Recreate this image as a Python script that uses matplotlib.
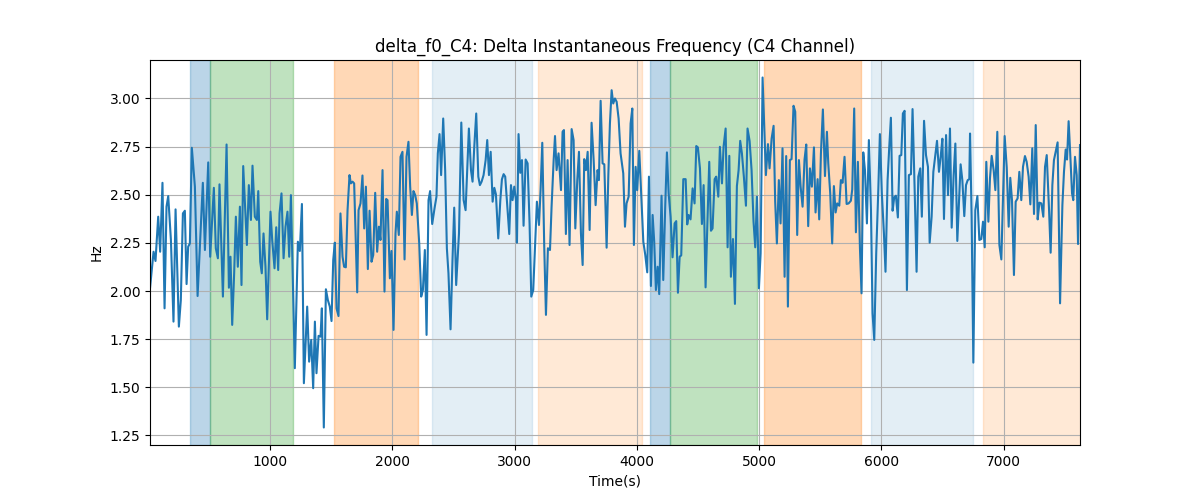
import matplotlib
matplotlib.use("Agg")
import matplotlib.pyplot as plt

# time stamps (s) and delta f0 values (Hz)
time_s = [
    20, 49, 65, 87, 103, 122, 139, 155, 169, 191, 212, 229, 256, 272, 289, 305, 319, 332, 346, 362,
    387, 409, 430, 452, 469, 496, 512, 542, 558, 575, 588, 616, 646, 665, 678, 692, 708, 722, 738, 755,
    768, 782, 812, 828, 845, 858, 877, 894, 905, 921, 934, 948, 964, 978, 1005, 1019, 1038, 1052, 1068, 1079,
    1095, 1112, 1128, 1144, 1158, 1172, 1204, 1229, 1245, 1262,
    1278, 1305, 1321, 1338, 1354, 1368, 1381, 1398, 1414, 1425, 1441, 1458, 1474, 1490, 1504, 1518, 1531, 1545, 1561, 1577,
    1594, 1607, 1621, 1635, 1651, 1662, 1676, 1689, 1714, 1725, 1741, 1757, 1771, 1785, 1801, 1815, 1831, 1845, 1861, 1877,
    1891, 1904, 1921, 1937, 1951, 1962, 1981, 1994, 2011, 2027, 2038, 2054, 2068, 2084, 2101, 2117, 2133, 2147, 2161, 2174,
    2188, 2201, 2221, 2237, 2251, 2267, 2281, 2297, 2310, 2327, 2346, 2362, 2373, 2387, 2400, 2417, 2433, 2447, 2460, 2477,
    2493, 2507, 2523,
    2546, 2565, 2584, 2600, 2627, 2644, 2657, 2671, 2687, 2704, 2717, 2731, 2747, 2764, 2777, 2791, 2805, 2821, 2835, 2848,
    2867, 2884, 2897, 2911, 2924, 2941, 2957, 2971, 2984, 2998, 3012, 3020, 3033, 3047, 3061, 3074, 3091, 3107, 3123, 3137,
    3153, 3167, 3183, 3200, 3213, 3227, 3243, 3257, 3273, 3290, 3303, 3320, 3331, 3344, 3360, 3380, 3393, 3404, 3420, 3434,
    3450, 3467, 3483, 3497, 3513, 3527, 3543, 3557, 3570, 3584, 3598, 3614, 3630, 3647, 3663, 3679, 3690, 3704, 3720, 3734,
    3753, 3767, 3780, 3794,
    3807, 3821, 3835, 3851, 3867, 3889, 3903, 3916, 3933, 3949, 3963, 3976, 3990, 4003, 4020, 4033, 4053, 4069, 4085, 4099,
    4115, 4129, 4142, 4156, 4170, 4183, 4202, 4216, 4232, 4246, 4260, 4276, 4292, 4309, 4322, 4336, 4350, 4363, 4380, 4399,
    4412, 4423, 4439, 4456, 4472, 4486, 4499, 4516, 4532, 4546, 4562, 4576, 4592, 4606, 4619, 4636, 4649, 4666, 4679, 4696,
    4709, 4726, 4742, 4756, 4769, 4786, 4802, 4818, 4832, 4845, 4859, 4875, 4892, 4905, 4922, 4938, 4954, 4968, 4982, 4998,
    5012, 5028, 5042, 5055, 5072,
    5085, 5102, 5118, 5131, 5145, 5161, 5175, 5191, 5208, 5221, 5235, 5251, 5265, 5281, 5295, 5311, 5325, 5339, 5355, 5371,
    5385, 5401, 5415, 5431, 5448, 5461, 5478, 5491, 5505, 5521, 5538, 5554, 5565, 5581, 5597, 5611, 5625, 5638, 5655, 5668,
    5682, 5698, 5715, 5731, 5750, 5761, 5777, 5791, 5807, 5824, 5837, 5851, 5865, 5881, 5897, 5914, 5927, 5941, 5957, 5974,
    5987, 6003, 6020, 6033, 6050, 6063, 6077, 6091, 6104, 6118, 6134, 6148, 6162, 6175, 6189, 6208, 6224, 6241, 6254, 6271,
    6287, 6301, 6317, 6330,
    6348, 6364, 6380, 6394, 6410, 6424, 6440, 6454, 6470, 6484, 6498, 6511, 6528, 6544, 6560, 6574, 6590, 6604, 6620, 6634,
    6647, 6661, 6677, 6691, 6705, 6718, 6724, 6737, 6751, 6767, 6784, 6800, 6816, 6830, 6844, 6857, 6874, 6887, 6901, 6917,
    6931, 6947, 6964, 6980, 7007, 7024, 7040, 7053, 7067, 7083, 7097, 7113, 7127, 7143, 7157, 7173, 7187, 7203, 7217, 7233,
    7247, 7261, 7277, 7291, 7307, 7323, 7337, 7351, 7370, 7383, 7397, 7410, 7427, 7440, 7460, 7479, 7492, 7506, 7517, 7530,
    7541, 7558, 7568, 7582, 7596, 7607, 7623,
]
delta_f0 = [
    2.014, 2.204, 2.156, 2.386, 2.204, 2.562, 1.910, 2.438, 2.493, 2.265, 1.841, 2.424, 1.815, 1.953, 2.403, 2.417, 2.036, 2.230, 2.247, 2.744,
    2.542, 1.974, 2.265, 2.562, 2.213, 2.668, 2.178, 2.536, 2.222, 2.170, 2.554, 1.971, 2.761, 2.017, 2.178, 1.824, 2.092, 2.386, 2.126, 2.438,
    2.031, 2.649, 2.239, 2.550, 2.369, 2.651, 2.386, 2.369, 2.519, 2.152, 2.092, 2.299, 2.126, 1.853, 2.412, 2.265, 2.118, 2.331, 2.109, 2.403,
    2.507, 2.170, 2.334, 2.412, 2.178, 2.498, 1.599, 2.256, 2.208, 2.452,
    1.521, 1.919, 1.633, 1.746, 1.495, 1.841, 1.573, 1.767, 1.763, 1.910, 1.291, 2.009, 1.953, 1.919, 1.844, 2.161, 2.251, 1.910, 1.870, 2.403,
    2.178, 2.126, 2.123, 2.420, 2.602, 2.559, 2.568, 2.559, 1.993, 2.420, 2.455, 2.600, 2.325, 2.542, 2.114, 2.417, 2.152, 2.187, 2.510, 2.204,
    2.334, 2.265, 2.628, 1.997, 2.478, 2.472, 2.066, 2.208, 1.798, 2.299, 2.412, 2.291, 2.697, 2.723, 2.164, 2.697, 2.775, 2.542, 2.395, 2.519,
    2.498, 2.455, 2.247, 1.971, 2.005, 2.213, 1.772, 2.472, 2.519, 2.348, 2.429, 2.490, 2.715, 2.815, 2.602, 2.896, 2.628, 2.222, 2.092, 1.801,
    2.161, 2.433, 2.031,
    2.299, 2.875, 2.472, 2.420, 2.844, 2.628, 2.568, 2.749, 2.922, 2.594, 2.550, 2.568, 2.602, 2.680, 2.784, 2.602, 2.723, 2.464, 2.536, 2.502,
    2.273, 2.472, 2.580, 2.607, 2.594, 2.438, 2.296, 2.550, 2.472, 2.542, 2.472, 2.251, 2.815, 2.614, 2.680, 2.339, 2.683, 2.663, 2.351, 1.971,
    2.005, 2.213, 2.464, 2.343, 2.524, 2.770, 2.230, 1.876, 2.222, 2.213, 2.438, 2.680, 2.805, 2.628, 2.715, 2.524, 2.827, 2.836, 2.296, 2.680,
    2.239, 2.841, 2.784, 2.325, 2.576, 2.723, 2.299, 2.135, 2.685, 2.628, 2.723, 2.317, 2.874, 2.680, 2.446, 2.628, 2.576, 2.988, 2.663, 2.658,
    2.225, 2.602, 2.870, 3.043,
    2.974, 3.000, 2.983, 2.896, 2.715, 2.611, 2.334, 2.455, 2.490, 2.870, 2.948, 2.239, 2.645, 2.524, 2.728, 2.542, 2.256, 2.187, 2.097, 2.594,
    2.026, 2.395, 2.256, 2.005, 2.126, 1.984, 2.495, 2.057, 2.438, 2.720, 2.507, 2.386, 2.175, 2.351, 2.363, 1.991, 2.178, 2.185, 2.581, 2.581,
    2.346, 2.395, 2.372, 2.533, 2.455, 2.753, 2.746, 2.637, 2.348, 2.550, 2.019, 2.334, 2.671, 2.313, 2.325, 2.581, 2.594, 2.490, 2.749, 2.559,
    2.749, 2.844, 2.227, 2.702, 2.074, 2.270, 1.933, 2.545, 2.628, 2.780, 2.715, 2.594, 2.443, 2.844, 2.779, 2.628, 2.360, 2.227, 2.490, 2.014,
    2.196, 3.109, 2.853, 2.602, 2.763,
    2.637, 2.792, 2.858, 2.464, 2.247, 2.576, 2.351, 2.741, 2.074, 2.701, 1.919, 2.680, 2.685, 2.962, 2.931, 2.291, 2.680, 2.542, 2.438, 2.683,
    2.761, 2.337, 2.637, 2.542, 2.746, 2.408, 2.581, 2.372, 2.715, 2.943, 2.597, 2.827, 2.663, 2.507, 2.247, 2.545, 2.408, 2.455, 2.443, 2.576,
    2.562, 2.697, 2.452, 2.455, 2.469, 2.528, 2.948, 2.305, 2.671, 2.222, 1.988, 2.720, 2.628, 2.351, 2.784, 2.420, 1.884, 1.746, 2.196, 2.524,
    2.815, 2.507, 2.299, 2.100, 2.576, 2.741, 2.900, 2.417, 2.486, 2.495, 2.382, 2.702, 2.706, 2.922, 2.936, 2.005, 2.602, 2.607, 2.945, 2.533,
    2.100, 2.594, 2.637, 2.386,
    2.884, 2.706, 2.645, 2.251, 2.386, 2.619, 2.706, 2.780, 2.619, 2.697, 2.791, 2.374, 2.810, 2.498, 2.844, 2.329, 2.602, 2.766, 2.260, 2.472,
    2.658, 2.576, 2.389, 2.550, 2.576, 2.581, 2.818, 2.386, 1.628, 2.420, 2.493, 2.265, 2.270, 2.360, 2.227, 2.671, 2.360, 2.585, 2.702, 2.628,
    2.524, 2.827, 2.239, 2.164, 2.805, 2.642, 2.334, 2.588, 2.472, 2.083, 2.464, 2.481, 2.619, 2.472, 2.645, 2.701, 2.671, 2.594, 2.450, 2.741,
    2.400, 2.862, 2.372, 2.459, 2.455, 2.386, 2.645, 2.706, 2.420, 2.199, 2.550, 2.680, 2.732, 2.772, 1.936, 2.446, 2.619, 2.735, 2.683, 2.882,
    2.741, 2.507, 2.472, 2.697, 2.602, 2.244, 2.758,
]

# shaded segments: (start, end, colour index, alpha)
seg_start = [346, 510, 1523, 2327, 3191, 4108, 4273, 5039, 5914, 6833]
seg_end = [510, 1191, 2214, 3142, 4046, 4273, 4980, 5832, 6746, 7700]
seg_color = ["C0", "C2", "C1", "C0", "C1", "C0", "C2", "C1", "C0", "C1"]
seg_alpha = [0.3, 0.3, 0.3, 0.12, 0.17, 0.3, 0.3, 0.3, 0.12, 0.17]

fig, ax = plt.subplots(figsize=(12, 5), dpi=100)
for s, e, c, a in zip(seg_start, seg_end, seg_color, seg_alpha):
    ax.axvspan(s, e, color=c, alpha=a)
ax.plot(time_s, delta_f0, color="C0", linewidth=1.5)
ax.set_xlim(time_s[0], time_s[-1])
ax.set_title("delta_f0_C4: Delta Instantaneous Frequency (C4 Channel)")
ax.set_xlabel("Time(s)")
ax.set_ylabel("Hz")
ax.grid(True)
fig.savefig("out.png")
